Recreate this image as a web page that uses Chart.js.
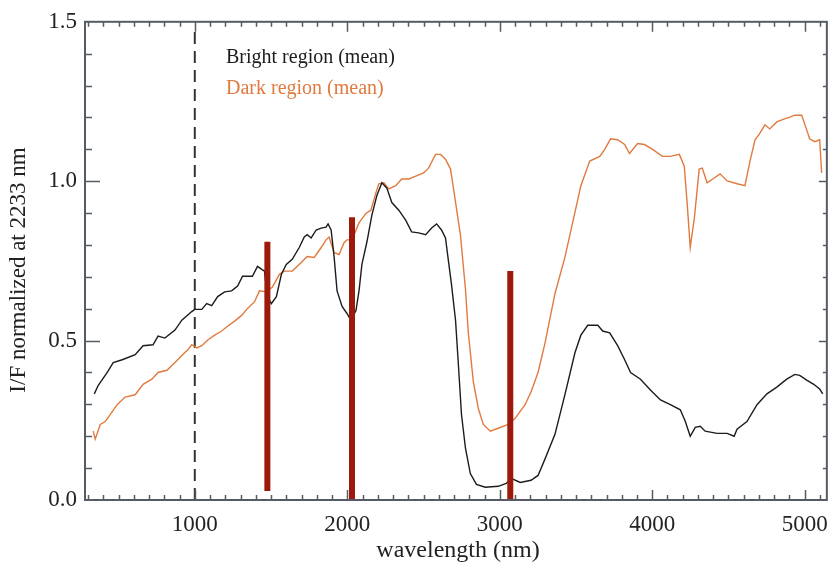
<!DOCTYPE html>
<html>
<head>
<meta charset="utf-8">
<title>I/F spectra</title>
<script src="https://cdn.jsdelivr.net/npm/chart.js"></script>
<style>
    html, body { margin: 0; padding: 0; background: #fff; }
    #wrap { width: 839px; height: 570px; }
</style>
</head>
<body>
<div id="wrap"><canvas id="spectra" width="839" height="570"></canvas></div>
<script>
// wavelengths (nm) and I/F values
const brightWl = [341,367,426,465,524,609,661,726,759,804,870,915,980,1000,1046,1078,1111,1150,1196,1241,1281,1313,1378,1411,1437,1457,1476,1502,1535,1568,1600,1639,1685,1718,1737,1763,1796,1829,1861,1874,1894,1914,1933,1966,1998,2024,2057,2077,2096,2129,2161,2194,2227,2259,2292,2338,2383,2422,2468,2514,2553,2586,2618,2644,2664,2683,2710,2729,2749,2775,2807,2847,2905,2990,3042,3075,3134,3205,3251,3297,3362,3427,3493,3532,3577,3643,3675,3721,3773,3819,3858,3923,3988,4054,4119,4184,4217,4249,4282,4315,4347,4426,4491,4537,4556,4621,4687,4752,4817,4882,4935,4967,5013,5059,5098,5118];
const brightIF = [0.333,0.360,0.400,0.431,0.440,0.456,0.484,0.487,0.514,0.508,0.533,0.564,0.591,0.598,0.598,0.616,0.610,0.638,0.653,0.656,0.671,0.702,0.702,0.733,0.724,0.718,0.638,0.616,0.638,0.708,0.739,0.755,0.792,0.825,0.832,0.822,0.847,0.853,0.856,0.866,0.847,0.761,0.656,0.607,0.585,0.564,0.594,0.656,0.739,0.810,0.893,0.955,0.995,0.979,0.933,0.909,0.878,0.841,0.838,0.832,0.853,0.866,0.847,0.822,0.748,0.678,0.564,0.422,0.268,0.163,0.083,0.049,0.040,0.043,0.052,0.068,0.055,0.062,0.077,0.129,0.206,0.330,0.462,0.517,0.548,0.548,0.530,0.524,0.484,0.440,0.400,0.379,0.345,0.314,0.299,0.283,0.246,0.200,0.228,0.231,0.216,0.209,0.209,0.200,0.222,0.246,0.299,0.333,0.354,0.379,0.394,0.391,0.376,0.363,0.348,0.333];

const darkWl = [334,347,380,413,445,491,543,609,661,719,759,817,870,915,954,980,1013,1046,1085,1131,1176,1215,1261,1307,1346,1392,1424,1470,1509,1555,1587,1639,1698,1737,1783,1829,1861,1881,1914,1946,1979,1998,2031,2077,2122,2155,2188,2207,2240,2272,2318,2357,2403,2449,2501,2533,2579,2612,2644,2677,2697,2716,2742,2775,2794,2827,2860,2892,2938,2990,3055,3101,3166,3205,3251,3297,3362,3427,3493,3532,3590,3656,3688,3727,3773,3819,3851,3904,3949,4002,4067,4119,4178,4210,4230,4249,4276,4308,4328,4360,4406,4445,4491,4556,4608,4641,4674,4700,4739,4771,4817,4863,4902,4935,4980,5013,5032,5065,5098,5111];
const darkIF = [0.216,0.191,0.237,0.246,0.268,0.299,0.323,0.330,0.363,0.379,0.400,0.407,0.431,0.453,0.471,0.487,0.477,0.484,0.502,0.517,0.530,0.545,0.561,0.579,0.601,0.622,0.656,0.653,0.668,0.708,0.718,0.718,0.745,0.764,0.761,0.792,0.816,0.825,0.776,0.770,0.807,0.816,0.816,0.869,0.899,0.909,0.964,0.992,0.995,0.976,0.986,1.007,1.007,1.016,1.026,1.041,1.084,1.084,1.069,1.038,0.976,0.915,0.832,0.662,0.524,0.370,0.286,0.237,0.216,0.225,0.237,0.256,0.299,0.339,0.400,0.493,0.647,0.761,0.902,0.986,1.063,1.078,1.100,1.133,1.130,1.115,1.087,1.118,1.115,1.100,1.078,1.078,1.084,1.047,0.924,0.792,0.884,1.038,1.041,0.995,1.010,1.023,1.001,0.992,0.986,1.063,1.130,1.146,1.177,1.164,1.186,1.195,1.201,1.207,1.207,1.161,1.133,1.124,1.130,1.026];

// red absorption-band markers
const bandWl = [1476, 2031, 3069];
const bandTop = [0.81, 0.887, 0.718];
const bandBottom = [0.028, 0, 0];

// dashed marker at 1000 nm
const markerWl = 1000;
const markerTop = 1.48;

const xTicks = [1000, 2000, 3000, 4000, 5000];
const yTicks = [0.0, 0.5, 1.0, 1.5];
const legendLabels = ['Bright region (mean)', 'Dark region (mean)'];

const SERIF = '"Liberation Serif", "DejaVu Serif", serif';
const BLACK = '#1c1c1c';
const ORANGE = '#e07a3f';
const BAND_RED = '#9c1a0b';
const AXIS = '#565b66';

const toPoints = (xs, ys) => xs.map((x, i) => ({ x: x, y: ys[i] }));

const datasets = [
    {
        label: legendLabels[0],
        data: toPoints(brightWl, brightIF),
        borderColor: BLACK,
        borderWidth: 1.4,
        order: 2
    },
    {
        label: legendLabels[1],
        data: toPoints(darkWl, darkIF),
        borderColor: ORANGE,
        borderWidth: 1.4,
        order: 3
    },
    {
        label: 'marker',
        data: [{ x: markerWl, y: 0 }, { x: markerWl, y: markerTop }],
        borderColor: '#333',
        borderWidth: 2,
        borderDash: [12, 7],
        order: 4
    }
];
bandWl.forEach((wl, i) => {
    datasets.push({
        label: 'band' + i,
        data: [{ x: wl, y: bandBottom[i] }, { x: wl, y: bandTop[i] }],
        borderColor: BAND_RED,
        borderWidth: 6,
        borderCapStyle: 'butt',
        order: 1
    });
});

// frame, inward ticks on all four sides, legend text and axis titles
const framePlugin = {
    id: 'frame',
    afterDatasetsDraw(chart) {
        const { ctx, chartArea: a, scales } = chart;
        const xs = scales.x, ys = scales.y;
        ctx.save();
        ctx.strokeStyle = AXIS;
        ctx.lineWidth = 2;
        ctx.strokeRect(a.left, a.top, a.right - a.left, a.bottom - a.top);

        ctx.lineWidth = 1.5;
        ctx.beginPath();
        for (let v = 300; v <= 5100; v += 100) {
            const major = v % 1000 === 0;
            const px = Math.round(xs.getPixelForValue(v)) + 0.5;
            const len = major ? 10 : 5;
            ctx.moveTo(px, a.bottom); ctx.lineTo(px, a.bottom - len);
            ctx.moveTo(px, a.top); ctx.lineTo(px, a.top + len);
        }
        for (let k = 1; k < 15; k++) {
            const v = k / 10;
            const major = k % 5 === 0;
            const py = Math.round(ys.getPixelForValue(v)) + 0.5;
            ctx.moveTo(a.left, py); ctx.lineTo(a.left + (major ? 15 : 7), py);
            ctx.moveTo(a.right, py); ctx.lineTo(a.right - (major ? 8 : 4), py);
        }
        ctx.stroke();

        // legend
        ctx.font = '20px ' + SERIF;
        ctx.textBaseline = 'alphabetic';
        ctx.textAlign = 'left';
        ctx.fillStyle = BLACK;
        ctx.fillText(legendLabels[0], 226, 63);
        ctx.fillStyle = ORANGE;
        ctx.fillText(legendLabels[1], 226, 94);

        // axis titles
        ctx.fillStyle = '#222';
        ctx.font = '24px ' + SERIF;
        ctx.textAlign = 'center';
        ctx.textBaseline = 'middle';
        ctx.fillText('wavelength (nm)', 458, 551);
        ctx.translate(19, 270);
        ctx.rotate(-Math.PI / 2);
        ctx.font = '23px ' + SERIF;
        ctx.fillText('I/F normalized at 2233 nm', 0, 0);
        ctx.restore();
    }
};

new Chart(document.getElementById('spectra'), {
    type: 'line',
    data: { datasets: datasets },
    options: {
        responsive: false,
        animation: false,
        parsing: true,
        layout: { padding: { left: 0, top: 13, right: 9, bottom: 0 } },
        elements: { point: { radius: 0 }, line: { tension: 0 } },
        plugins: { legend: { display: false }, tooltip: { enabled: false } },
        scales: {
            x: {
                type: 'linear',
                min: 280,
                max: 5145,
                grid: { display: false, drawTicks: false },
                border: { display: false },
                afterFit(scale) { scale.height = 70; },
                afterBuildTicks(scale) { scale.ticks = xTicks.map(v => ({ value: v })); },
                ticks: {
                    padding: 11,
                    maxRotation: 0,
                    color: '#222',
                    font: { family: SERIF, size: 23 },
                    callback: v => String(v)
                }
            },
            y: {
                type: 'linear',
                min: 0,
                max: 1.5,
                grid: { display: false, drawTicks: false },
                border: { display: false },
                afterFit(scale) { scale.width = 85; },
                afterBuildTicks(scale) { scale.ticks = yTicks.map(v => ({ value: v })); },
                ticks: {
                    padding: 8,
                    color: '#222',
                    font: { family: SERIF, size: 23 },
                    callback: v => Number(v).toFixed(1)
                }
            }
        }
    },
    plugins: [framePlugin]
});
</script>
</body>
</html>
